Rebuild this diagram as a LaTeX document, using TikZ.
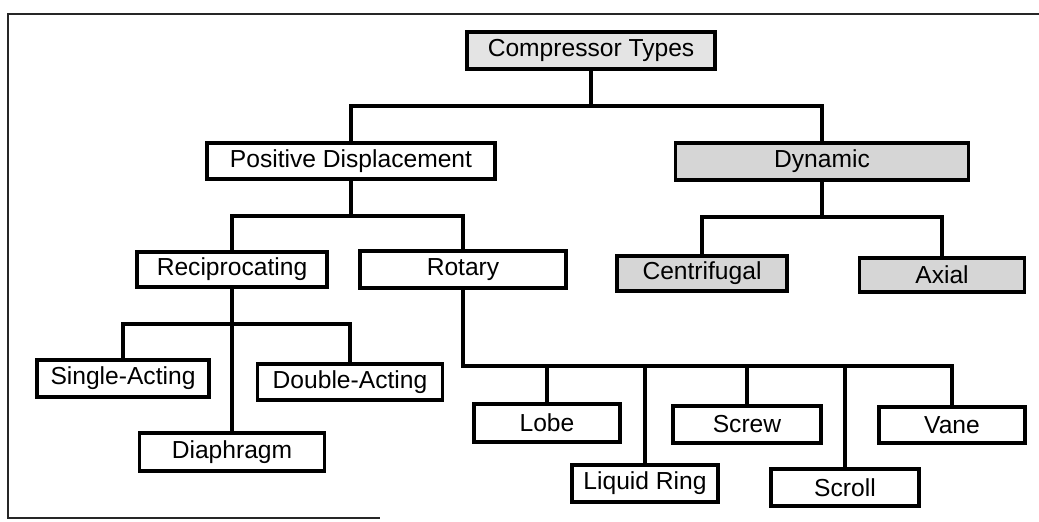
\documentclass[tikz,border=0pt]{standalone}
\usepackage{fontspec}
\setmainfont{Liberation Sans}
\usetikzlibrary{positioning}
\definecolor{cstipple}{HTML}{D6D6D6}
\definecolor{clight}{HTML}{E4E4E4}
\tikzset{
  every picture/.style={line width=2.6pt},
  tbox/.style={draw=black, fill=#1, inner sep=0pt, line width=2.6pt, font=\fontsize{17.5}{20}\selectfont},
  tbox/.default=white,
  boxsize/.style 2 args={minimum width=#1*0.025cm, minimum height=#2*0.025cm},
  link/.style={draw=black, line width=2.4pt},
  frame/.style={draw=black!85, line width=1.3pt},
}

\begin{document}
\begin{tikzpicture}[x=0.025cm, y=-0.025cm]
  \useasboundingbox (0,0) rectangle (1039,521);
  % page frame
  \draw[frame] (1039,14) -- (8,14) -- (8,518) -- (380,518);
  % top two levels
  \node[tbox=clight, boxsize={248}{37}] (root) at (591,50.5) {Compressor Types};
  \node[tbox, boxsize={288}{36}] (pd) at (351,161) {Positive Displacement};
  \node[tbox=cstipple, boxsize={293}{37}] (dyn) at (822,161.5) {Dynamic};
  % third level
  \node[tbox, boxsize={190}{35}] (recip) at (232,269.5) {Reciprocating};
  \node[tbox, boxsize={206}{37}] (rotary) at (463,269.5) {Rotary};
  \node[tbox=cstipple, boxsize={170}{35}] (centri) at (702,273.5) {Centrifugal};
  \node[tbox=cstipple, boxsize={165}{34}] (axial) at (942,275) {Axial};
  % reciprocating types
  \node[tbox, boxsize={172}{37}] (single) at (123,378.5) {Single-Acting};
  \node[tbox, boxsize={185}{36}] (double) at (350,382) {Double-Acting};
  \node[tbox, boxsize={185}{38}] (diaph) at (232,452) {Diaphragm};
  % rotary types
  \node[tbox, boxsize={146}{38}] (lobe) at (547,423) {Lobe};
  \node[tbox, boxsize={146}{37}] (liquid) at (645,483.5) {Liquid Ring};
  \node[tbox, boxsize={148}{37}] (screw) at (747,424.5) {Screw};
  \node[tbox, boxsize={148}{37}] (scroll) at (845,487.5) {Scroll};
  \node[tbox, boxsize={146}{36}] (vane) at (952,425) {Vane};
  % bus heights
  \coordinate (b1) at (0,106);
  \coordinate (b2) at (0,216);
  \coordinate (b3) at (0,217);
  \coordinate (b4) at (0,324);
  \coordinate (b5) at (0,366);
  % connectors
  \foreach \c in {pd,dyn}
    \draw[link] (root.south) -- (root.south |- b1) -| (\c.north);
  \foreach \c in {recip,rotary}
    \draw[link] (pd.south) -- (pd.south |- b2) -| (\c.north);
  \foreach \c in {centri,axial}
    \draw[link] (dyn.south) -- (dyn.south |- b3) -| (\c.north);
  \foreach \c in {single,double}
    \draw[link] (recip.south) -- (recip.south |- b4) -| (\c.north);
  \draw[link] (recip.south) -- (diaph.north);
  \foreach \c in {lobe,liquid,screw,scroll,vane}
    \draw[link] (rotary.south) -- (rotary.south |- b5) -| (\c.north);
\end{tikzpicture}
\end{document}
